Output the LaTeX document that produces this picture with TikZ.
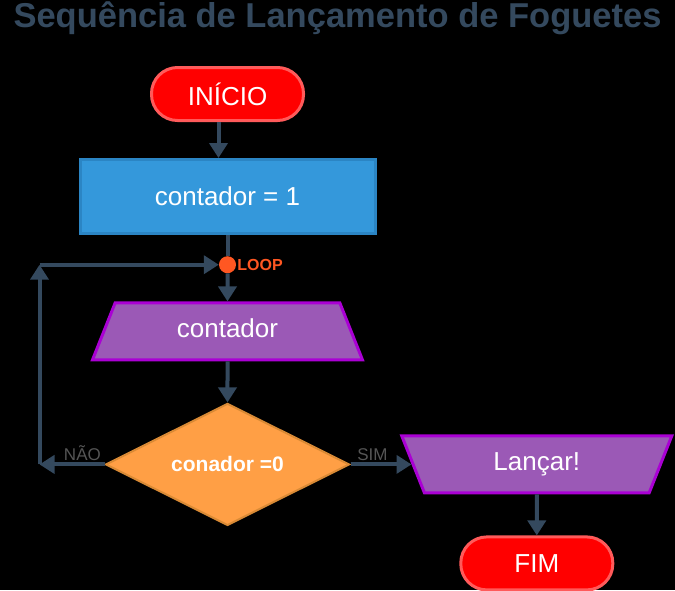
\documentclass[tikz,border=0pt]{standalone}
\usepackage{fontspec}
\setmainfont{Liberation Sans}
\usetikzlibrary{arrows.meta,positioning,shapes.geometric}
\definecolor{slate}{HTML}{34495E}
\definecolor{pillfill}{HTML}{FF0000}
\definecolor{pillline}{HTML}{FF5A5A}
\definecolor{boxfill}{HTML}{3498DB}
\definecolor{boxline}{HTML}{2B85C4}
\definecolor{iofill}{HTML}{9B59B6}
\definecolor{ioline}{HTML}{AA00D4}
\definecolor{decfill}{HTML}{FF9F45}
\definecolor{decline}{HTML}{D98A35}
\definecolor{loopc}{HTML}{FF5722}
\definecolor{tagc}{HTML}{555555}

\begin{document}
\begin{tikzpicture}[
  x=1pt, y=-1pt,
  every node/.style={align=center, text=white, font=\fontsize{26}{30}\selectfont},
  pill/.style={draw=pillline, fill=pillfill, line width=3pt, rounded corners=26pt,
               minimum width=152pt, minimum height=53pt},
  box/.style={draw=boxline, fill=boxfill, line width=3pt,
              minimum width=295pt, minimum height=74pt},
  io/.style={trapezium, trapezium stretches body, draw=ioline, fill=iofill, line width=3pt,
             trapezium left angle=52, trapezium right angle=52,
             text height=19pt, text depth=6pt,
             minimum width=270pt, minimum height=57pt, inner sep=2pt},
  decision/.style={diamond, shape aspect=2, draw=decline, fill=decfill, line width=2pt,
                   minimum width=244pt, minimum height=122pt,
                   font=\bfseries\fontsize{21}{24}\selectfont},
  dot/.style={circle, fill=loopc, minimum size=17pt, inner sep=0pt},
  arr/.style={-{Triangle[width=18pt,length=15pt]}, line width=4pt, draw=slate},
  tag/.style={text=tagc, font=\fontsize{17}{20}\selectfont, inner sep=2pt}
]
\path[use as bounding box, fill=black] (0,0) rectangle (675,590);

\node[text=slate, font=\bfseries\fontsize{34.5}{38}\selectfont, anchor=base, inner sep=0pt]
  (title) at (337.5,27) {Sequência de Lançamento de Foguetes};

\node[pill] (start) at (227.5,94) {INÍCIO};
\node[box, below=36pt of start] (init) {contador = 1};
\node[dot, below=21pt of init] (loop) {};
\node[text=loopc, font=\bfseries\fontsize{16}{18}\selectfont, inner sep=0pt,
      right=1pt of loop] (looplabel) {LOOP};
\node[io, below=28pt of loop] (count) {contador};
\node[decision, below=41pt of count] (decide) {conador =0};
\node[io, trapezium left angle=128, trapezium right angle=128,
      right=61pt of decide] (launch) {Lançar!};
\node[pill, below=41pt of launch] (stop) {FIM};

\coordinate[left=65pt of decide.west] (nobottom);
\coordinate (notop) at (nobottom |- loop);

\draw[arr] ([xshift=-9pt]start.south) -- ([xshift=-9pt]init.north);
\draw[line width=4pt, draw=slate] (init) -- (loop);
\draw[arr] (loop) -- (count);
\draw[arr] (count) -- (decide);
\draw[arr] (decide.west) -- node[tag, above, pos=0.34] (nolabel) {NÃO} (nobottom);
\draw[arr] (nobottom) -- (notop);
\draw[arr] (notop) -- (loop);
\draw[arr] (decide.east) -- node[tag, above, pos=0.36] (yeslabel) {SIM} (launch.west);
\draw[arr] (launch) -- (stop);
\end{tikzpicture}
\end{document}
